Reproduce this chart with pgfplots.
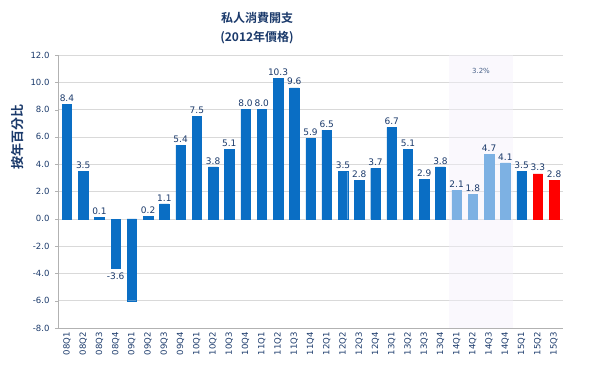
\documentclass[border=0pt]{standalone}
\usepackage{pgfplots}
\pgfplotsset{compat=1.18}
\usepackage{fontspec}
\setmainfont{DejaVu Sans}
\newfontfamily\cjk{Noto Sans CJK TC}[BoldFont={Noto Sans CJK TC Bold}]
\definecolor{navy}{HTML}{1B3A6B}
\definecolor{barblue}{HTML}{0A6EC4}
\definecolor{lightblue}{HTML}{7DB1E3}
\definecolor{barred}{HTML}{FF0000}
\definecolor{shadecol}{HTML}{F3F0FA}
\begin{document}
\begin{tikzpicture}
\path[use as bounding box] (0,0) rectangle (597pt,378pt);
\begin{axis}[
  at={(58pt,50pt)}, anchor=south west,
  scale only axis, width=505pt, height=273pt,
  xmin=-0.55, xmax=30.55, ymin=-8, ymax=12,
  ytick={-8,-6,...,12},
  xtick={0,...,30},
  xticklabels={08Q1,08Q2,08Q3,08Q4,09Q1,09Q2,09Q3,09Q4,10Q1,10Q2,10Q3,10Q4,11Q1,11Q2,11Q3,11Q4,12Q1,12Q2,12Q3,12Q4,13Q1,13Q2,13Q3,13Q4,14Q1,14Q2,14Q3,14Q4,15Q1,15Q2,15Q3},
  x tick label style={rotate=90, anchor=east, font=\fontsize{8.5}{9}\selectfont, text=navy, inner sep=1pt},
  y tick label style={font=\fontsize{8.5}{9}\selectfont, text=navy, xshift=-2pt},
  /pgf/number format/assume math mode=true,
  yticklabel style={/pgf/number format/.cd, fixed, fixed zerofill, precision=1},
  axis lines*=left,
  axis line style={gray!60},
  xtick style={draw=none},
  ytick style={gray!60},
  major tick length=3pt,
  tick align=outside,
  ymajorgrids, grid style={gray!30, line width=0.6pt},
  ybar, bar width=9.5pt,
  point meta=explicit symbolic,
  nodes near coords,
  every node near coord/.append style={font=\fontsize{9}{10}\selectfont, text=navy, inner sep=2.5pt},
]
\fill[shadecol, fill opacity=0.45] (axis cs:23.5,-8) rectangle (axis cs:27.5,12);
\addplot[fill=barblue, draw=barblue, bar shift=0pt] coordinates {
(0,8.4)[8.4] (1,3.5)[3.5] (2,0.1)[0.1] (4,-6.0)[{}] (5,0.2)[0.2] (6,1.1)[1.1] (7,5.4)[5.4]
(8,7.5)[7.5] (9,3.8)[3.8] (10,5.1)[5.1] (11,8.0)[8.0] (12,8.0)[8.0] (13,10.3)[10.3] (14,9.6)[9.6] (15,5.9)[5.9]
(16,6.5)[6.5] (17,3.5)[3.5] (18,2.8)[2.8] (19,3.7)[3.7] (20,6.7)[6.7] (21,5.1)[5.1] (22,2.9)[2.9] (23,3.8)[3.8]
(28,3.5)[3.5]
};
\addplot[fill=barblue, draw=barblue, bar shift=0pt,
  every node near coord/.append style={anchor=north, yshift=-2pt}] coordinates {
(3,-3.6)[-3.6]
};
\addplot[fill=lightblue, draw=lightblue, bar shift=0pt] coordinates {
(24,2.1)[2.1] (25,1.8)[1.8] (26,4.7)[4.7] (27,4.1)[4.1]
};
\addplot[fill=barred, draw=barred, bar shift=0pt] coordinates {
(29,3.3)[3.3] (30,2.8)[2.8]
};
\node[font=\fontsize{7}{8}\selectfont, text=navy!80] at (axis cs:25.5,10.8) {3.2\%};
\end{axis}
\node[font=\cjk\bfseries\fontsize{12}{14}\selectfont, text=navy] at (257pt,360pt) {私人消費開支};
\node[font=\cjk\bfseries\fontsize{12}{14}\selectfont, text=navy] at (257pt,340pt) {(2012年價格)};
\node[font=\cjk\bfseries\fontsize{13}{14}\selectfont, text=navy, rotate=90] at (18pt,241pt) {按年百分比};
\end{tikzpicture}
\end{document}
